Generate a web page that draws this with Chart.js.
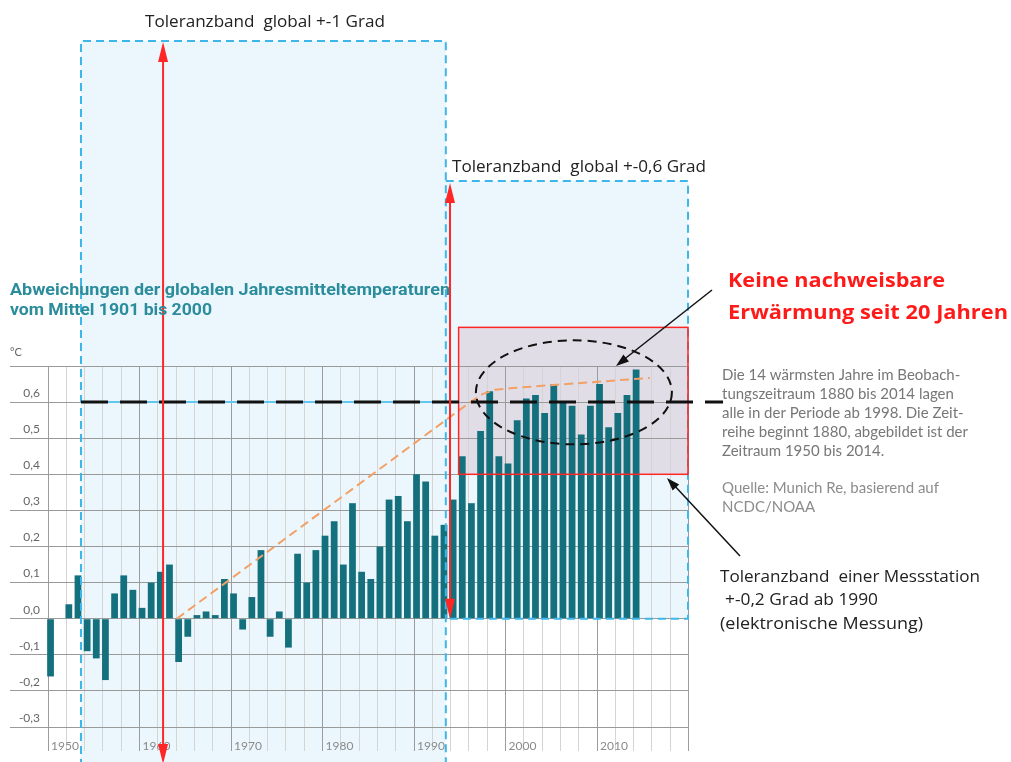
<!DOCTYPE html>
<html>
<head>
<meta charset="utf-8">
<script src="https://cdn.jsdelivr.net/npm/chart.js@4.4.0/dist/chart.umd.min.js"></script>
<style>
  html, body { margin: 0; padding: 0; background: #fff; }
  #wrap { width: 1011px; height: 762px; position: relative; }
</style>
</head>
<body>
<div id="wrap"><canvas id="chart"></canvas></div>
<script>
const years = [
  1950, 1951, 1952, 1953, 1954, 1955, 1956, 1957, 1958, 1959,
  1960, 1961, 1962, 1963, 1964, 1965, 1966, 1967, 1968, 1969,
  1970, 1971, 1972, 1973, 1974, 1975, 1976, 1977, 1978, 1979,
  1980, 1981, 1982, 1983, 1984, 1985, 1986, 1987, 1988, 1989,
  1990, 1991, 1992, 1993, 1994, 1995, 1996, 1997, 1998, 1999,
  2000, 2001, 2002, 2003, 2004, 2005, 2006, 2007, 2008, 2009,
  2010, 2011, 2012, 2013, 2014,
];
const anomalies = [
  -0.16, 0.00, 0.04, 0.12, -0.09, -0.11, -0.17, 0.07, 0.12, 0.08,
  0.03, 0.10, 0.13, 0.15, -0.12, -0.05, 0.01, 0.02, 0.01, 0.11,
  0.07, -0.03, 0.06, 0.19, -0.05, 0.02, -0.08, 0.18, 0.10, 0.19,
  0.23, 0.27, 0.15, 0.32, 0.13, 0.11, 0.20, 0.33, 0.34, 0.27,
  0.40, 0.38, 0.23, 0.26, 0.33, 0.45, 0.32, 0.52, 0.63, 0.45,
  0.43, 0.55, 0.61, 0.62, 0.57, 0.65, 0.60, 0.59, 0.51, 0.59,
  0.65, 0.53, 0.57, 0.62, 0.69,
];

// hand drawn orange trend line
const trendYears = [1963.8, 1995.6, 1997.2, 1998.6, 2000.5, 2015.5];
const trendValues = [0.0, 0.595, 0.622, 0.634, 0.639, 0.667];

const yTicks = [-0.3, -0.2, -0.1, 0.0, 0.1, 0.2, 0.3, 0.4, 0.5, 0.6, 0.7];
const yLabels = ["-0,3", "-0,2", "-0,1", "0,0", "0,1", "0,2", "0,3", "0,4", "0,5", "0,6", ""];
const gridYears = [];
for (let y = 1950; y <= 2020; y += 2) gridYears.push(y);
const decadeLabels = [1950, 1960, 1970, 1980, 1990, 2000, 2010];

const TEAL = "#15707d";
const RED = "#ff2626";
const BLUE = "#3db6ea";
const SHIFT = 0.27; // grid lines sit just left of the bars

function arrowHead(ctx, x1, y1, x2, y2, len, half) {
  const a = Math.atan2(y2 - y1, x2 - x1);
  const c = Math.cos(a), s = Math.sin(a);
  ctx.beginPath();
  ctx.moveTo(x2, y2);
  ctx.lineTo(x2 - len * c + half * s, y2 - len * s - half * c);
  ctx.lineTo(x2 - len * c - half * s, y2 - len * s + half * c);
  ctx.closePath();
  ctx.fill();
}

// draw text squeezed/stretched to the width it has in the reference
function fitText(ctx, str, x, y, font, color, width) {
  ctx.save();
  ctx.font = font;
  ctx.fillStyle = color;
  ctx.textAlign = "left";
  ctx.textBaseline = "middle";
  const w = ctx.measureText(str).width;
  ctx.translate(x, y);
  ctx.scale(width ? width / w : 1, 1);
  ctx.fillText(str, 0, 0);
  ctx.restore();
}

const annotations = {
  id: "annotations",
  beforeDraw(chart) {
    const { ctx } = chart;
    const X = (v) => chart.scales.x.getPixelForValue(v);
    const Y = (v) => chart.scales.y.getPixelForValue(v);
    ctx.save();
    ctx.fillStyle = "#fff";
    ctx.fillRect(0, 0, chart.width, chart.height);
    // tolerance bands
    ctx.fillStyle = "rgba(200,232,250,0.34)";
    ctx.fillRect(X(1953.33), 41, X(1993.2) - X(1953.33), chart.height);
    ctx.fillRect(X(1993.2), 181, X(2019.67) - X(1993.2), Y(0) - 181);
    // station band
    ctx.fillStyle = "rgba(205,170,185,0.34)";
    ctx.fillRect(X(1994.6), Y(0.807), X(2019.67) - X(1994.6), Y(0.4) - Y(0.807));
    ctx.restore();
  },
  afterDraw(chart) {
    const { ctx } = chart;
    const xs = chart.scales.x, ys = chart.scales.y;
    const X = (v) => xs.getPixelForValue(v);
    const Y = (v) => ys.getPixelForValue(v);
    ctx.save();

    // axis labels
    ctx.font = "12px Lato";
    ctx.fillStyle = "#666";
    ctx.textAlign = "right";
    ctx.textBaseline = "middle";
    yTicks.forEach((v, i) => ctx.fillText(yLabels[i], 40, Y(v) - 9));
    ctx.fillStyle = "#8a8a8a";
    ctx.textAlign = "left";
    decadeLabels.forEach((yr) => ctx.fillText(String(yr), X(yr - SHIFT) + 3, 746));
    ctx.font = "11px Lato";
    ctx.fillStyle = "#666";
    ctx.fillText("°C", 10, 352);

    // blue piece under the 0.6 line
    ctx.strokeStyle = "#62c6ef";
    ctx.lineWidth = 2;
    ctx.beginPath();
    ctx.moveTo(X(1953.33), Y(0.6));
    ctx.lineTo(X(1993.2), Y(0.6));
    ctx.stroke();

    // blue dashed boxes
    ctx.strokeStyle = BLUE;
    ctx.lineWidth = 2;
    ctx.setLineDash([8, 5]);
    ctx.beginPath();
    ctx.moveTo(X(1953.33), chart.height + 5);
    ctx.lineTo(X(1953.33), 41);
    ctx.lineTo(X(1993.2), 41);
    ctx.lineTo(X(1993.2), chart.height + 5);
    ctx.stroke();
    ctx.beginPath();
    ctx.moveTo(X(1993.2), 181);
    ctx.lineTo(X(2019.67), 181);
    ctx.lineTo(X(2019.67), Y(0));
    ctx.lineTo(X(1993.2), Y(0));
    ctx.stroke();

    // red station band outline
    ctx.setLineDash([]);
    ctx.strokeStyle = RED;
    ctx.lineWidth = 1.5;
    ctx.strokeRect(X(1994.6), Y(0.807), X(2019.67) - X(1994.6), Y(0.4) - Y(0.807));

    // black dashed 0.6 line
    ctx.strokeStyle = "#111";
    ctx.lineWidth = 3;
    ctx.setLineDash([27, 12]);
    ctx.beginPath();
    ctx.moveTo(X(1953.33), Y(0.6));
    ctx.lineTo(X(2023.5), Y(0.6));
    ctx.stroke();

    // ellipse
    ctx.lineWidth = 2;
    ctx.setLineDash([9, 6]);
    ctx.beginPath();
    ctx.ellipse(X(2007.2), Y(0.627), 98, 52, 0, 0, Math.PI * 2);
    ctx.stroke();
    ctx.setLineDash([]);

    // red double arrows
    ctx.strokeStyle = RED;
    ctx.fillStyle = RED;
    ctx.lineWidth = 2;
    const a1 = X(1962.3);
    ctx.beginPath();
    ctx.moveTo(a1, 50);
    ctx.lineTo(a1, chart.height - 10);
    ctx.stroke();
    arrowHead(ctx, a1, 100, a1, 42, 20, 5);
    arrowHead(ctx, a1, 700, a1, chart.height + 2, 20, 5);
    const a2 = X(1993.66);
    ctx.beginPath();
    ctx.moveTo(a2, 195);
    ctx.lineTo(a2, Y(0) - 10);
    ctx.stroke();
    arrowHead(ctx, a2, 250, a2, 183, 20, 5);
    arrowHead(ctx, a2, 500, a2, Y(0), 20, 5);

    // black pointer arrows
    ctx.strokeStyle = "#111";
    ctx.fillStyle = "#111";
    ctx.lineWidth = 1.5;
    ctx.beginPath();
    ctx.moveTo(712, 290);
    ctx.lineTo(622, 361);
    ctx.stroke();
    arrowHead(ctx, 712, 290, 616, 366, 13, 4.5);
    ctx.beginPath();
    ctx.moveTo(740, 556);
    ctx.lineTo(672, 483);
    ctx.stroke();
    arrowHead(ctx, 740, 556, 667, 478, 13, 4.5);

    // texts
    const cal = "'Open Sans', sans-serif";
    fitText(ctx, "Toleranzband  global +-1 Grad", 145, 22, "16px " + cal, "#222", 240);
    fitText(ctx, "Toleranzband  global +-0,6 Grad", 452, 167, "16px " + cal, "#222", 254);
    fitText(ctx, "Abweichungen der globalen Jahresmitteltemperaturen", 10, 291, "bold 16px Roboto", "#2b8c9b", 440);
    fitText(ctx, "vom Mittel 1901 bis 2000", 10, 311, "bold 16px Roboto", "#2b8c9b", 202);
    fitText(ctx, "Keine nachweisbare", 728, 281, "bold 20px " + cal, "#ff1a1a", 217);
    fitText(ctx, "Erwärmung seit 20 Jahren", 728, 313, "bold 20px " + cal, "#ff1a1a", 280);
    const para = [
      "Die 14 wärmsten Jahre im Beobach-",
      "tungszeitraum 1880 bis 2014 lagen",
      "alle in der Periode ab 1998. Die Zeit-",
      "reihe beginnt 1880, abgebildet ist der",
      "Zeitraum 1950 bis 2014.",
    ];
    para.forEach((l, i) => fitText(ctx, l, 722, 375 + i * 19, "15px Lato", "#777"));
    fitText(ctx, "Quelle: Munich Re, basierend auf", 722, 488, "15px Lato", "#8c8c8c");
    fitText(ctx, "NCDC/NOAA", 722, 507, "15px Lato", "#8c8c8c");
    fitText(ctx, "Toleranzband  einer Messstation", 720, 577, "16px " + cal, "#222", 260);
    fitText(ctx, "+-0,2 Grad ab 1990", 725, 600, "16px " + cal, "#222", 153);
    fitText(ctx, "(elektronische Messung)", 720, 624, "16px " + cal, "#222", 203);
    ctx.restore();
  },
};

new Chart(document.getElementById("chart"), {
  type: "bar",
  plugins: [annotations],
  data: {
    datasets: [
      {
        type: "line",
        label: "Trend",
        data: trendYears.map((x, i) => ({ x: x, y: trendValues[i] })),
        borderColor: "#f2a066",
        borderWidth: 2,
        borderDash: [9, 5],
        pointRadius: 0,
        fill: false,
        order: 0,
      },
      {
        label: "Abweichung",
        data: years.map((x, i) => ({ x: x, y: anomalies[i] })),
        backgroundColor: TEAL,
        barPercentage: 0.74,
        categoryPercentage: 1,
        order: 1,
      },
    ],
  },
  options: {
    animation: false,
    responsive: true,
    maintainAspectRatio: false,
    layout: { padding: { left: 10, right: 323, top: 366, bottom: 11 } },
    plugins: {
      legend: { display: false },
      tooltip: { enabled: false },
    },
    scales: {
      x: {
        type: "linear",
        min: 1945.57,
        max: 2019.67,
        offset: false,
        afterBuildTicks: (s) => {
          s.ticks = gridYears.map((v) => ({ value: v - SHIFT }));
        },
        grid: {
          offset: false,
          color: (c) => (c.tick && Math.round(c.tick.value + SHIFT) % 10 === 0 ? "#9c9c9c" : "#d4d4d4"),
          tickColor: (c) => (c.tick && Math.round(c.tick.value + SHIFT) % 10 === 0 ? "#9c9c9c" : "#d4d4d4"),
          tickLength: 24,
        },
        border: { display: false },
        ticks: { display: false },
      },
      y: {
        min: -0.3,
        max: 0.7,
        afterBuildTicks: (s) => {
          s.ticks = yTicks.map((v) => ({ value: v }));
        },
        grid: { color: "#9a9a9a", drawTicks: false },
        border: { display: false },
        ticks: { display: false },
      },
    },
  },
});
</script>
</body>
</html>
